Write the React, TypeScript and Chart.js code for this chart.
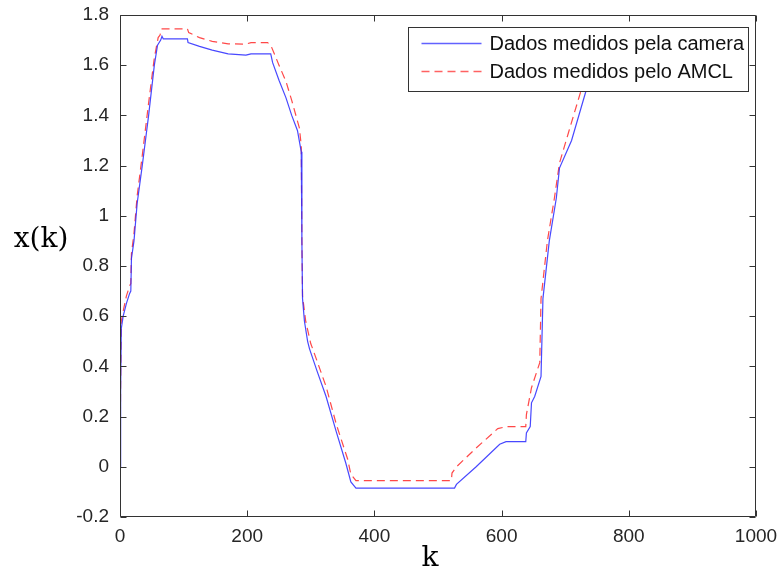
import React, { useEffect, useRef } from "react";
import { Chart, registerables } from "chart.js";

Chart.register(...registerables);

// k values and measured x(k) for the camera series
const cameraK = [0, 1, 2, 5, 10, 15, 17, 18, 22, 27, 35, 45, 54, 59, 64, 66, 68, 106, 107, 125, 145, 170, 198, 206, 237, 240, 250, 261, 270, 279, 285, 286, 287, 290, 295, 298, 310, 324, 340, 355, 363, 371, 526, 529, 560, 597, 607, 638, 639, 645, 647, 652, 662, 665, 675, 686, 691, 710, 733, 745, 755];
const cameraX = [0, 0.3, 0.55, 0.6, 0.65, 0.69, 0.7, 0.83, 0.9, 1.05, 1.2, 1.4, 1.6, 1.68, 1.7, 1.715, 1.705, 1.705, 1.69, 1.675, 1.66, 1.645, 1.64, 1.645, 1.645, 1.61, 1.54, 1.47, 1.4, 1.34, 1.255, 0.9, 0.67, 0.58, 0.5, 0.47, 0.38, 0.28, 0.14, 0.015, -0.06, -0.085, -0.085, -0.07, 0.0, 0.09, 0.1, 0.1, 0.135, 0.16, 0.255, 0.28, 0.36, 0.67, 0.9, 1.07, 1.19, 1.3, 1.5, 1.58, 1.64];

// k values and measured x(k) for the AMCL series
const amclK = [0, 1, 2, 5, 10, 15, 17, 18, 22, 27, 35, 45, 54, 60, 63, 65, 106, 108, 125, 145, 170, 198, 206, 232, 237, 250, 261, 270, 282, 285, 286, 287, 292, 300, 303, 324, 340, 358, 363, 371, 521, 522, 529, 560, 594, 607, 638, 639, 647, 660, 662, 672, 683, 691, 705, 725, 740, 752];
const amclX = [0, 0.35, 0.58, 0.62, 0.68, 0.72, 0.73, 0.85, 0.93, 1.08, 1.24, 1.45, 1.63, 1.71, 1.72, 1.745, 1.745, 1.73, 1.71, 1.695, 1.685, 1.684, 1.69, 1.69, 1.68, 1.6, 1.535, 1.46, 1.35, 1.28, 0.9, 0.68, 0.58, 0.49, 0.47, 0.32, 0.17, 0.03, -0.03, -0.055, -0.055, -0.025, 0.0, 0.075, 0.152, 0.16, 0.16, 0.208, 0.315, 0.415, 0.67, 0.9, 1.07, 1.21, 1.33, 1.5, 1.6, 1.66];

const xTicks = [0, 200, 400, 600, 800, 1000];
const yTicks = [-0.2, 0, 0.2, 0.4, 0.6, 0.8, 1, 1.2, 1.4, 1.6, 1.8];
const legendLabels = ["Dados medidos pela camera", "Dados medidos pelo AMCL"];
const xTitle = "k";
const yTitle = "x(k)";

const BLUE = "rgba(40,40,255,0.85)";
const RED = "rgba(255,40,40,0.85)";
const AXIS = "#333333";
const DASH = [8, 5];
const TICK_FONT = { family: '"Liberation Sans", Arial, sans-serif', size: 19 };

const framePlugin = {
  id: "frame",
  afterDatasetsDraw(chart: any) {
    const { ctx, chartArea: a, scales } = chart;
    ctx.save();
    ctx.strokeStyle = AXIS;
    ctx.lineWidth = 1;
    const L = Math.round(a.left) + 0.5;
    const R = Math.round(a.right) - 0.5;
    const T = Math.round(a.top) + 0.5;
    const B = Math.round(a.bottom) - 0.5;
    ctx.beginPath();
    ctx.rect(L, T, R - L, B - T);
    ctx.stroke();
    const tl = 6;
    ctx.beginPath();
    for (const v of xTicks) {
      const px = Math.round(scales.x.getPixelForValue(v)) + 0.5;
      ctx.moveTo(px, B);
      ctx.lineTo(px, B - tl);
      ctx.moveTo(px, T);
      ctx.lineTo(px, T + tl);
    }
    for (const v of yTicks) {
      const py = Math.round(scales.y.getPixelForValue(v)) + 0.5;
      ctx.moveTo(L, py);
      ctx.lineTo(L + tl, py);
      ctx.moveTo(R, py);
      ctx.lineTo(R - tl, py);
    }
    ctx.stroke();

    // legend box
    const lx = Math.round(a.right) - 348 + 0.5;
    const ly = Math.round(a.top) + 12 + 0.5;
    const lw = 340;
    const lh = 64;
    ctx.fillStyle = "#ffffff";
    ctx.fillRect(lx, ly, lw, lh);
    ctx.strokeStyle = AXIS;
    ctx.strokeRect(lx, ly, lw, lh);
    const rows = [
      { color: "rgba(70,70,255,0.85)", dash: [] as number[], y: ly + 16 },
      { color: "rgba(255,70,70,0.85)", dash: DASH, y: ly + 44 },
    ];
    ctx.font = '20px "Liberation Sans", Arial, sans-serif';
    ctx.textBaseline = "middle";
    ctx.textAlign = "left";
    rows.forEach((r, i) => {
      ctx.save();
      ctx.strokeStyle = r.color;
      ctx.lineWidth = 1.3;
      ctx.setLineDash(r.dash);
      ctx.beginPath();
      ctx.moveTo(lx + 13, r.y);
      ctx.lineTo(lx + 73, r.y);
      ctx.stroke();
      ctx.restore();
      ctx.fillStyle = "#111111";
      ctx.fillText(legendLabels[i], lx + 81, r.y + 1);
    });

    // axis titles
    ctx.fillStyle = "#000000";
    ctx.font = '28px "DejaVu Serif", serif';
    ctx.textBaseline = "alphabetic";
    ctx.textAlign = "center";
    ctx.fillText(yTitle, 41, 247);
    ctx.fillText(xTitle, 430, 566);
    ctx.restore();
  },
};

export default function App() {
  const ref = useRef<HTMLCanvasElement | null>(null);
  useEffect(() => {
    document.body.style.margin = "0";
    const canvas = ref.current;
    if (!canvas) return;
    const chart = new Chart(canvas, {
      type: "line",
      data: {
        datasets: [
          {
            label: legendLabels[0],
            data: cameraK.map((k, i) => ({ x: k, y: cameraX[i] })),
            borderColor: BLUE,
            borderWidth: 1.2,
            pointRadius: 0,
            tension: 0,
            fill: false,
          },
          {
            label: legendLabels[1],
            data: amclK.map((k, i) => ({ x: k, y: amclX[i] })),
            borderColor: RED,
            borderWidth: 1.2,
            borderDash: DASH,
            pointRadius: 0,
            tension: 0,
            fill: false,
          },
        ],
      },
      options: {
        animation: false,
        responsive: false,
        devicePixelRatio: 1,
        layout: { padding: { left: 0, top: 15, right: 23, bottom: 0 } },
        plugins: { legend: { display: false }, tooltip: { enabled: false } },
        scales: {
          x: {
            type: "linear",
            min: 0,
            max: 1000,
            afterBuildTicks: (s: any) => {
              s.ticks = xTicks.map((v) => ({ value: v }));
            },
            afterFit: (s: any) => {
              s.height = 55;
              s.paddingLeft = 0;
              s.paddingRight = 0;
              s.paddingTop = 0;
              s.paddingBottom = 0;
            },
            grid: { display: false, drawTicks: false },
            border: { display: false },
            ticks: {
              padding: 8,
              color: "#262626",
              font: TICK_FONT,
              maxRotation: 0,
              callback: (v: any) => String(v),
            },
          },
          y: {
            type: "linear",
            min: -0.2,
            max: 1.8,
            afterBuildTicks: (s: any) => {
              s.ticks = yTicks.map((v) => ({ value: v }));
            },
            afterFit: (s: any) => {
              s.width = 120;
              s.paddingLeft = 0;
              s.paddingRight = 0;
              s.paddingTop = 0;
              s.paddingBottom = 0;
            },
            grid: { display: false, drawTicks: false },
            border: { display: false },
            ticks: {
              padding: 11,
              color: "#262626",
              font: TICK_FONT,
              callback: (v: any) => String(Number(Number(v).toFixed(1))),
            },
          },
        },
      },
      plugins: [framePlugin],
    });
    return () => chart.destroy();
  }, []);
  return (
    <div style={{ width: 779, height: 572, background: "#fff" }}>
      <canvas ref={ref} width={779} height={572} style={{ display: "block", width: 779, height: 572 }} />
    </div>
  );
}
